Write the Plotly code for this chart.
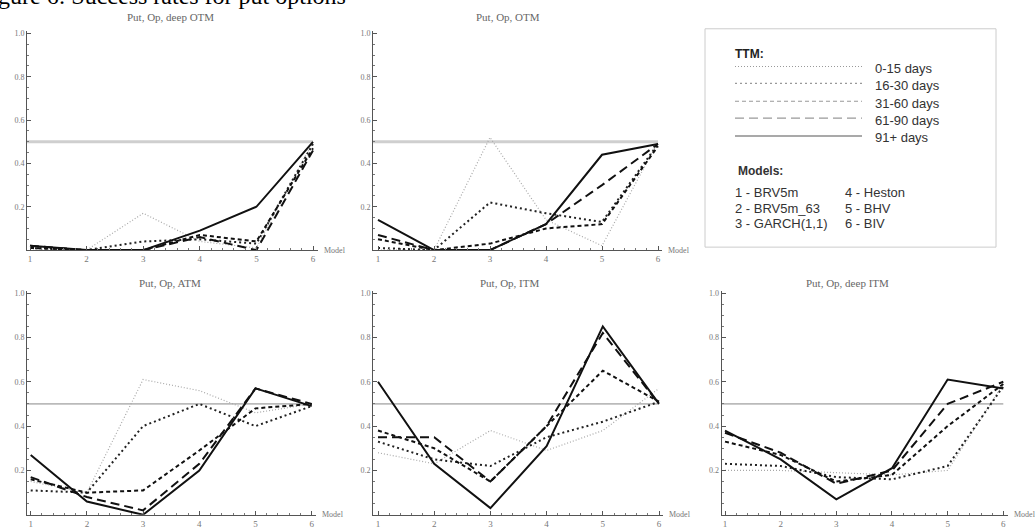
import plotly.graph_objects as go

W, H = 1035, 529

models = [1, 2, 3, 4, 5, 6]
x_tick_labels = ["1", "2", "3", "4", "5", "6"]
y_tick_vals = [0.2, 0.4, 0.6, 0.8, 1.0]
y_tick_labels = ["0.2", "0.4", "0.6", "0.8", "1.0"]
ttm_labels = ["0-15 days", "16-30 days", "31-60 days", "61-90 days", "91+ days"]
model_names = ["1 - BRV5m", "2 - BRV5m_63", "3 - GARCH(1,1)", "4 - Heston", "5 - BHV", "6 - BIV"]
panel_titles = ["Put, Op, deep OTM", "Put, Op, OTM", "Put, Op, ATM", "Put, Op, ITM", "Put, Op, deep ITM"]
reference_level = 0.5

# success rates per TTM bucket (rows: 0-15, 16-30, 31-60, 61-90, 91+)
deep_otm = [
    [0.00, 0.00, 0.17, 0.04, 0.01, 0.50],
    [0.01, 0.00, 0.04, 0.05, 0.03, 0.49],
    [0.01, 0.00, 0.00, 0.07, 0.04, 0.47],
    [0.02, 0.00, 0.00, 0.06, 0.00, 0.46],
    [0.02, 0.00, 0.00, 0.09, 0.20, 0.50],
]
otm = [
    [0.00, 0.00, 0.52, 0.14, 0.02, 0.50],
    [0.01, 0.00, 0.22, 0.17, 0.13, 0.49],
    [0.05, 0.00, 0.03, 0.10, 0.12, 0.48],
    [0.07, 0.00, 0.00, 0.12, 0.30, 0.49],
    [0.14, 0.00, 0.00, 0.12, 0.44, 0.49],
]
atm = [
    [0.15, 0.10, 0.61, 0.56, 0.46, 0.50],
    [0.11, 0.10, 0.40, 0.50, 0.40, 0.49],
    [0.16, 0.10, 0.11, 0.29, 0.48, 0.50],
    [0.17, 0.08, 0.02, 0.23, 0.57, 0.50],
    [0.27, 0.06, 0.00, 0.20, 0.57, 0.49],
]
itm = [
    [0.28, 0.23, 0.38, 0.29, 0.38, 0.57],
    [0.33, 0.25, 0.22, 0.35, 0.42, 0.51],
    [0.38, 0.30, 0.15, 0.40, 0.65, 0.51],
    [0.35, 0.35, 0.15, 0.40, 0.82, 0.50],
    [0.60, 0.23, 0.03, 0.31, 0.85, 0.50],
]
deep_itm = [
    [0.20, 0.20, 0.19, 0.18, 0.20, 0.59],
    [0.23, 0.22, 0.17, 0.16, 0.22, 0.58],
    [0.33, 0.27, 0.15, 0.18, 0.40, 0.59],
    [0.37, 0.28, 0.14, 0.20, 0.50, 0.60],
    [0.38, 0.25, 0.07, 0.21, 0.61, 0.57],
]
panels_data = [deep_otm, otm, atm, itm, deep_itm]

styles = [
    dict(color="#a8a8a8", width=1.2, dash="1px,2px"),
    dict(color="#222222", width=2.0, dash="2px,3px"),
    dict(color="#111111", width=2.0, dash="4px,3px"),
    dict(color="#111111", width=2.0, dash="9px,5px"),
    dict(color="#111111", width=2.0, dash="solid"),
]

# panel geometry in pixels: y-axis x, model1 x, model6 x, axis end x, y0 px, y1.0 px
geo = [
    (27, 30, 313, 318, 250, 31.7),
    (373, 378, 658, 662, 250, 31.7),
    (27, 30.7, 311.7, 316, 516.7, 293.3),
    (373, 378, 659, 663, 516.7, 293.3),
    (721.7, 725, 1003.3, 1008, 516.7, 293.3),
]
title_pos = [(170, 15), (508, 15), (170, 283), (510, 283), (847, 283)]

fig = go.Figure()
layout = dict()
shapes = []
annotations = []
serif = "Liberation Serif, Times New Roman, serif"
sans = "Liberation Sans, Arial, sans-serif"

def px(x):
    return x / W

def py(y):
    return 1 - y / H

for i, (data, g) in enumerate(zip(panels_data, geo)):
    ax_x, m1, m6, xend, y0p, y1p = g
    ppm = (m6 - m1) / 5.0
    xr0 = 1 - (m1 - ax_x) / ppm
    xr1 = 6 + (xend - m6) / ppm
    ppu = y0p - y1p
    ytop = 1.01
    ytop_px = y0p - ytop * ppu
    xn = "x" if i == 0 else f"x{i+1}"
    yn = "y" if i == 0 else f"y{i+1}"
    xk = "xaxis" if i == 0 else f"xaxis{i+1}"
    yk = "yaxis" if i == 0 else f"yaxis{i+1}"
    layout[xk] = dict(
        domain=[px(ax_x), px(xend)], range=[xr0, xr1], anchor=yn,
        showline=True, linecolor="#555", linewidth=1, showgrid=False, zeroline=False,
        tickvals=models, ticktext=x_tick_labels, ticks="inside", ticklen=4, tickcolor="#555",
        tickfont=dict(family=serif, size=9, color="#777"),
        minor=dict(dtick=0.2, tick0=1, ticks="inside", ticklen=2, tickcolor="#777"),
        fixedrange=True,
    )
    layout[yk] = dict(
        domain=[py(y0p), py(ytop_px)], range=[0, ytop], anchor=xn,
        showline=True, linecolor="#555", linewidth=1, showgrid=False, zeroline=False,
        tickvals=y_tick_vals, ticktext=y_tick_labels, ticks="inside", ticklen=4, tickcolor="#555",
        tickfont=dict(family=serif, size=8, color="#777"),
        minor=dict(dtick=0.05, tick0=0, ticks="inside", ticklen=2, tickcolor="#777"),
        fixedrange=True,
    )
    hl_color = "#cfcfcf" if i < 2 else "#888888"
    hl_width = 3 if i < 2 else 1
    fig.add_trace(go.Scatter(
        x=[xr0, models[-1]], y=[reference_level, reference_level], mode="lines",
        line=dict(color=hl_color, width=hl_width), xaxis=xn, yaxis=yn,
        showlegend=False, hoverinfo="skip"))
    for k, series in enumerate(data):
        fig.add_trace(go.Scatter(
            x=models, y=series, mode="lines", line=styles[k], name=ttm_labels[k],
            xaxis=xn, yaxis=yn, showlegend=False))
    tx, ty = title_pos[i]
    annotations.append(dict(text=panel_titles[i], x=px(tx), y=py(ty), xref="paper", yref="paper",
                            showarrow=False, xanchor="center", yanchor="middle",
                            font=dict(family=serif, size=11, color="#666")))
    annotations.append(dict(text="Model", x=px(xend + 4), y=py(y0p), xref="paper", yref="paper",
                            showarrow=False, xanchor="left", yanchor="middle",
                            font=dict(family=serif, size=8, color="#777")))

# figure caption, clipped at the top edge as in the source page
annotations.append(dict(text="Figure 6: Success rates for put options", x=px(-24), y=py(9),
                        xref="paper", yref="paper", showarrow=False, xanchor="left", yanchor="bottom",
                        font=dict(family=serif, size=24, color="#000")))

# legend box
shapes.append(dict(type="rect", xref="paper", yref="paper", x0=px(705), x1=px(996), y0=py(247), y1=py(27),
                   line=dict(color="#cccccc", width=1), fillcolor="rgba(0,0,0,0)"))
annotations.append(dict(text="<b>TTM:</b>", x=px(733), y=py(52), xref="paper", yref="paper", showarrow=False,
                        xanchor="left", yanchor="middle", font=dict(family=sans, size=12, color="#222")))
row_y = [67, 84, 102, 119, 137]
for k, lab in enumerate(ttm_labels):
    st = styles[k]
    shapes.append(dict(type="line", xref="paper", yref="paper", x0=px(735), x1=px(862),
                       y0=py(row_y[k] - 2), y1=py(row_y[k] - 2),
                       line=dict(color="#999999" if k < 4 else "#555555", width=1.2, dash=st["dash"])))
    annotations.append(dict(text=lab, x=px(873), y=py(row_y[k]), xref="paper", yref="paper", showarrow=False,
                            xanchor="left", yanchor="middle", font=dict(family=sans, size=13, color="#333")))
annotations.append(dict(text="<b>Models:</b>", x=px(736), y=py(170), xref="paper", yref="paper", showarrow=False,
                        xanchor="left", yanchor="middle", font=dict(family=sans, size=12, color="#333")))
mrow_y = [192, 208, 223]
for j, name in enumerate(model_names):
    colx = 733 if j < 3 else 843
    annotations.append(dict(text=name, x=px(colx), y=py(mrow_y[j % 3]), xref="paper", yref="paper",
                            showarrow=False, xanchor="left", yanchor="middle",
                            font=dict(family=sans, size=13, color="#333")))

fig.update_layout(
    width=W, height=H, margin=dict(l=0, r=0, t=0, b=0),
    paper_bgcolor="white", plot_bgcolor="white", showlegend=False,
    shapes=shapes, annotations=annotations, **layout,
)
fig.write_html("out.html", config={"displayModeBar": False})
